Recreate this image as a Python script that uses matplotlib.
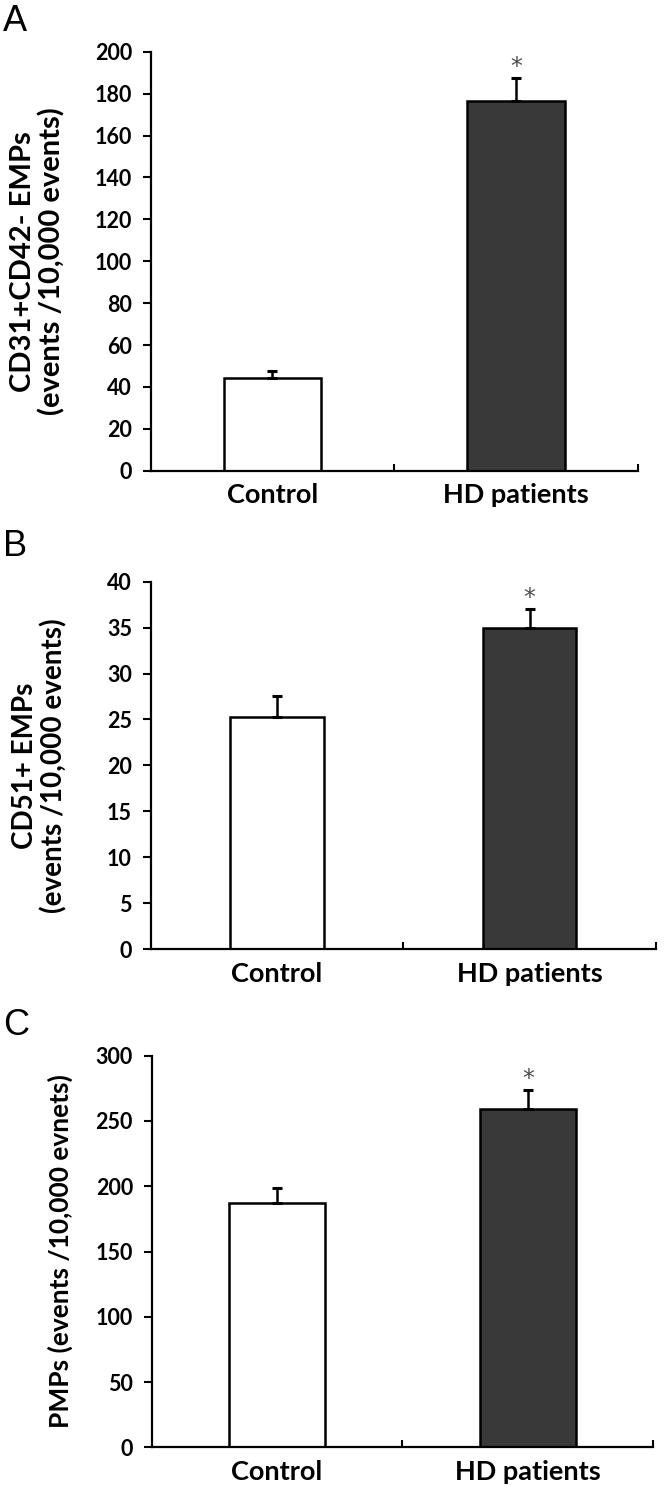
"""
Three-panel bar chart: microparticle counts, Control vs HD patients.
Output: out.png (666 x 1486 px)
"""

import numpy as np
import matplotlib
matplotlib.use("Agg")
import matplotlib.pyplot as plt

plt.rcParams["font.family"] = ["Lato", "DejaVu Sans"]

# =============================================================================
# data
# =============================================================================
GROUPS = ["Control", "HD patients"]

CD31_MEAN = [44.2, 176.6]
CD31_ERR = [3.2, 11.0]

CD51_MEAN = [25.3, 35.0]
CD51_ERR = [2.2, 2.0]

PMP_MEAN = [187.4, 258.9]
PMP_ERR = [11.0, 14.8]

FILLS = ["white", "#393939"]
FIG_W, FIG_H = 666, 1486


def px_rect(left, top, right, bottom):
    """pixel box -> figure fraction [l, b, w, h]"""
    return [left / FIG_W, 1 - bottom / FIG_H,
            (right - left) / FIG_W, (bottom - top) / FIG_H]


def draw_panel(ax, means, errs, ylim, yticks, ylabel, ylabel_size,
               ylabel_x, width):
    x = np.arange(len(GROUPS))
    ax.bar(x, means, width, color=FILLS, edgecolor="black",
           linewidth=1.8, zorder=2)
    ax.errorbar(x, means, yerr=[np.zeros(len(errs)), errs], fmt="none",
                ecolor="black", elinewidth=1.8, capsize=3.4, capthick=2.2,
                zorder=3)
    # significance mark over HD patients
    ax.annotate("*", xy=(x[1], means[1] + errs[1]), xytext=(0, 3),
                textcoords="offset points", ha="center", va="baseline",
                fontsize=17, color="#4d4d4d", family="DejaVu Sans")

    ax.set_xlim(-0.5, 1.5)
    ax.set_ylim(*ylim)
    ax.set_yticks(yticks)
    ax.set_xticks(x, GROUPS)
    ax.set_xticks([0.5, 1.5], minor=True)
    ax.tick_params(axis="x", which="major", length=0, pad=9, labelsize=19.5)
    ax.tick_params(axis="x", which="minor", direction="in", length=5,
                   width=1.5)
    ax.tick_params(axis="y", direction="out", length=5.5, width=1.5,
                   pad=8, labelsize=15.5)
    for lab in ax.get_xticklabels() + ax.get_yticklabels():
        lab.set_fontweight("bold")
    for side in ("top", "right"):
        ax.spines[side].set_visible(False)
    for side in ("left", "bottom"):
        ax.spines[side].set_linewidth(1.6)

    ax.set_ylabel(ylabel, fontsize=ylabel_size, fontweight="bold",
                  va="center", linespacing=1.1)
    ax.yaxis.set_label_coords(ylabel_x, 0.5)


def main():
    fig = plt.figure(figsize=(FIG_W / 100, FIG_H / 100), dpi=100)

    ax_a = fig.add_axes(px_rect(150.7, 51.7, 637.7, 470.7))
    ax_b = fig.add_axes(px_rect(150.7, 581.7, 656.0, 949.0))
    ax_c = fig.add_axes(px_rect(151.7, 1055.7, 653.3, 1447.3))

    draw_panel(ax_a, CD31_MEAN, CD31_ERR, (0, 200), range(0, 201, 20),
               "CD31+CD42- EMPs\n(events /10,000 events)", 21,
               (38 - 150.7) / (637.7 - 150.7), 0.40)
    draw_panel(ax_b, CD51_MEAN, CD51_ERR, (0, 40), range(0, 41, 5),
               "CD51+ EMPs\n(events /10,000 events)", 20,
               (40 - 150.7) / (656.0 - 150.7), 0.37)
    draw_panel(ax_c, PMP_MEAN, PMP_ERR, (0, 300), range(0, 301, 50),
               "PMPs (events /10,000 evnets)", 19,
               (60 - 151.7) / (653.3 - 151.7), 0.38)

    for letter, top in (("A", 4), ("B", 529), ("C", 1008)):
        fig.text(3 / FIG_W, 1 - top / FIG_H, letter, ha="left", va="top",
                 fontsize=26, family="Liberation Sans")

    fig.savefig("out.png", dpi=100)
    plt.close(fig)


if __name__ == "__main__":
    main()
